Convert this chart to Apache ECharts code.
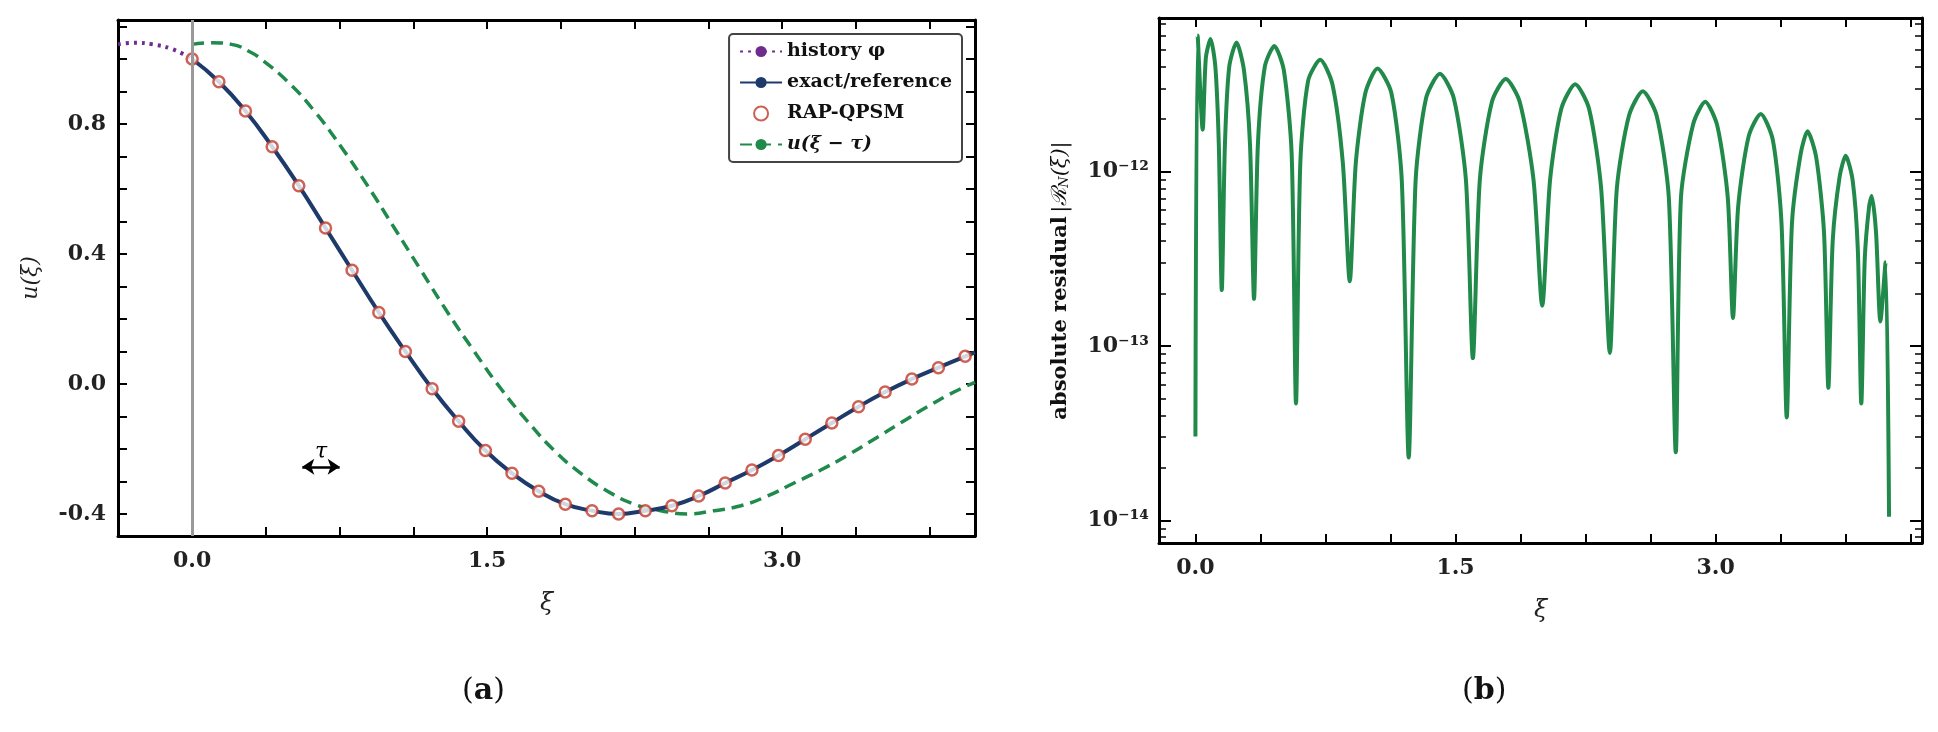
<!DOCTYPE html>
<html>
<head>
<meta charset="utf-8">
<script src="https://cdn.jsdelivr.net/npm/echarts@6/dist/echarts.min.js"></script>
<style>
  html, body { margin: 0; padding: 0; background: #fff; }
  #chart { width: 1938px; height: 732px; }
</style>
</head>
<body>
<div id="chart"></div>
<script>
// panel (a): solution
var historyXi = [-0.377, -0.3, -0.2, -0.1, 0];
var historyU = [1.045, 1.05, 1.045, 1.03, 1.0];

var nodeXi = [0, 0.136, 0.271, 0.407, 0.542, 0.678, 0.813, 0.949, 1.084, 1.220,
  1.355, 1.491, 1.626, 1.762, 1.897, 2.033, 2.168, 2.304, 2.439, 2.575,
  2.710, 2.846, 2.981, 3.117, 3.252, 3.388, 3.523, 3.659, 3.794, 3.930];
var nodeU = [1.0, 0.93, 0.84, 0.73, 0.61, 0.48, 0.35, 0.22, 0.10, -0.015,
  -0.115, -0.205, -0.275, -0.33, -0.37, -0.39, -0.40, -0.39, -0.375, -0.345,
  -0.305, -0.265, -0.22, -0.17, -0.12, -0.07, -0.025, 0.015, 0.05, 0.085];
var exactXi = nodeXi.concat([3.98]);
var exactU = nodeU.concat([0.097]);

var delayXi = [0, 0.1, 0.2, 0.3, 0.35, 0.486, 0.621, 0.757, 0.892, 1.028, 1.163, 1.299,
  1.434, 1.57, 1.705, 1.841, 1.976, 2.112, 2.247, 2.383, 2.518, 2.654, 2.789,
  2.925, 3.06, 3.196, 3.331, 3.467, 3.602, 3.738, 3.873, 3.98];
var delayU = [1.045, 1.05, 1.045, 1.02, 1.0, 0.93, 0.84, 0.73, 0.61, 0.48, 0.35, 0.22,
  0.10, -0.015, -0.115, -0.205, -0.275, -0.33, -0.37, -0.39, -0.40, -0.39, -0.375,
  -0.345, -0.305, -0.265, -0.22, -0.17, -0.12, -0.07, -0.025, 0.005];

// panel (b): residual, log10 exponents
var resXi = [0.000, 0.013, 0.042, 0.060, 0.087, 0.115, 0.135, 0.152, 0.170, 0.195,
  0.237, 0.280, 0.315, 0.338, 0.360, 0.400, 0.455, 0.510, 0.555, 0.580,
  0.605, 0.650, 0.720, 0.790, 0.850, 0.890, 0.925, 0.980, 1.050, 1.130,
  1.190, 1.230, 1.270, 1.330, 1.410, 1.490, 1.560, 1.600, 1.640, 1.710,
  1.790, 1.870, 1.950, 2.000, 2.045, 2.110, 2.190, 2.270, 2.340, 2.390,
  2.430, 2.500, 2.580, 2.660, 2.730, 2.770, 2.800, 2.870, 2.940, 3.010,
  3.070, 3.100, 3.130, 3.190, 3.260, 3.330, 3.380, 3.410, 3.440, 3.490,
  3.530, 3.580, 3.625, 3.650, 3.675, 3.715, 3.750, 3.790, 3.820, 3.840,
  3.860, 3.885, 3.900, 3.925, 3.950, 3.980, 4.000];
var resExp = [-13.52, -11.22, -11.76, -11.35, -11.24, -11.40, -11.85, -12.68, -11.85, -11.40,
  -11.26, -11.42, -11.85, -12.73, -11.85, -11.40, -11.28, -11.42, -11.90, -13.33,
  -11.95, -11.48, -11.36, -11.50, -11.95, -12.63, -11.95, -11.55, -11.41, -11.55,
  -12.05, -13.64, -12.05, -11.58, -11.44, -11.58, -12.05, -13.07, -12.05, -11.60,
  -11.47, -11.60, -12.05, -12.77, -12.05, -11.64, -11.50, -11.64, -12.10, -13.04,
  -12.10, -11.68, -11.54, -11.68, -12.15, -13.61, -12.15, -11.73, -11.60, -11.74,
  -12.15, -12.84, -12.20, -11.80, -11.67, -11.82, -12.30, -13.41, -12.30, -11.90,
  -11.77, -11.92, -12.35, -13.24, -12.40, -12.03, -11.91, -12.05, -12.45, -13.33,
  -12.50, -12.20, -12.14, -12.35, -12.86, -12.52, -13.98];

var xiLabels = [0, 1.5, 3.0];
var xiTicksA = [0, 0.375, 0.75, 1.125, 1.5, 1.875, 2.25, 2.625, 3.0, 3.375, 3.75];
var xiTicksB = [0, 0.375, 0.75, 1.125, 1.5, 1.875, 2.25, 2.625, 3.0, 3.375, 3.75, 4.125];
var uLabels = [-0.4, 0.0, 0.4, 0.8];
var uTicks = [-0.4, -0.3, -0.2, -0.1, 0, 0.1, 0.2, 0.3, 0.4, 0.5, 0.6, 0.7, 0.8, 0.9, 1.0, 1.1];
var resMinExp = -14.13, resMaxExp = -11.12;

var serif = 'DejaVu Serif';
function zip(a, b) { return a.map(function (v, i) { return [v, b[i]]; }); }
var supers = { '-': '⁻', '0': '⁰', '1': '¹', '2': '²', '3': '³', '4': '⁴' };
function pow10(v) {
    var l = Math.log10(v), e = Math.round(l);
    if (Math.abs(l - e) > 0.01) return '';
    return '10' + String(e).split('').map(function (c) { return supers[c]; }).join('');
}

var axisLine = { show: true, onZero: false, lineStyle: { color: '#000', width: 3 } };
var tickStyle = { width: 2, color: '#000' };
function xAxisPair(grid, min, max, ticks, name) {
    return [{
        type: 'value', gridIndex: grid, min: min, max: max,
        axisLine: axisLine, splitLine: { show: false },
        axisTick: { inside: true, length: 9, lineStyle: tickStyle, customValues: ticks },
        axisLabel: { customValues: xiLabels, fontFamily: serif, fontWeight: 'bold', fontSize: 22, color: '#222', margin: 14,
            formatter: function (v) { return v.toFixed(1); } },
        name: name, nameLocation: 'middle', nameGap: 56,
        nameTextStyle: { fontFamily: serif, fontStyle: 'italic', fontSize: 24, color: '#222' }
    }, {
        type: 'value', gridIndex: grid, position: 'top', min: min, max: max,
        axisLine: axisLine, splitLine: { show: false },
        axisTick: { inside: true, length: 9, lineStyle: tickStyle, customValues: ticks },
        axisLabel: { show: false }
    }];
}
function logAxis(right) {
    return {
        type: 'log', logBase: 10, gridIndex: 1, position: right ? 'right' : 'left',
        min: Math.pow(10, resMinExp), max: Math.pow(10, resMaxExp),
        axisLine: axisLine, splitLine: { show: false },
        axisTick: { inside: true, length: 12, lineStyle: tickStyle },
        minorTick: { show: true, splitNumber: 9, length: 7, lineStyle: { width: 1.5, color: '#000' } },
        axisLabel: right ? { show: false } : { fontFamily: serif, fontWeight: 'bold', fontSize: 22, color: '#222', margin: 10,
            formatter: pow10, showMinLabel: false, showMaxLabel: false }
    };
}

var yRes = logAxis(false);
yRes.name = '{b|absolute residual} {i||ℛ}{s|N}{i|(ξ)|}';
yRes.nameLocation = 'middle';
yRes.nameGap = 88;
yRes.nameRotate = 90;
yRes.nameTextStyle = { rich: {
    b: { fontFamily: serif, fontWeight: 'bold', fontSize: 21, color: '#111' },
    i: { fontFamily: serif, fontStyle: 'italic', fontSize: 21, color: '#111' },
    s: { fontFamily: serif, fontStyle: 'italic', fontSize: 13, color: '#111', verticalAlign: 'bottom', padding: [8, 0, 0, 0] }
} };

var chart = echarts.init(document.getElementById('chart'));
var option = {
    animation: false,
    backgroundColor: '#fff',
    grid: [
        { left: 118, right: 963, top: 20, bottom: 196 },
        { left: 1159, right: 16, top: 18, bottom: 189 }
    ],
    legend: {
        orient: 'vertical', right: 976, top: 34,
        backgroundColor: '#fff', borderColor: '#444', borderWidth: 2, borderRadius: 4,
        padding: [8, 10, 8, 10], itemGap: 12, itemWidth: 42, itemHeight: 14,
        textStyle: { fontFamily: serif, fontWeight: 'bold', fontSize: 19, color: '#111',
            rich: { i: { fontFamily: serif, fontStyle: 'italic', fontSize: 19, color: '#111' } } },
        formatter: function (n) { return n === 'u(ξ − τ)' ? '{i|u(ξ − τ)}' : n; },
        data: ['history φ', 'exact/reference', 'RAP-QPSM', 'u(ξ − τ)']
    },
    xAxis: xAxisPair(0, -0.377, 3.98, xiTicksA, 'ξ').concat(xAxisPair(1, -0.21, 4.19, xiTicksB, 'ξ')),
    yAxis: [{
        type: 'value', gridIndex: 0, min: -0.468, max: 1.12,
        axisLine: axisLine, splitLine: { show: false },
        axisTick: { inside: true, length: 9, lineStyle: tickStyle, customValues: uTicks },
        axisLabel: { customValues: uLabels, fontFamily: serif, fontWeight: 'bold', fontSize: 22, color: '#222', margin: 12,
            formatter: function (v) { return v.toFixed(1); } },
        name: 'u(ξ)', nameLocation: 'middle', nameGap: 76, nameRotate: 90,
        nameTextStyle: { fontFamily: serif, fontStyle: 'italic', fontSize: 22, color: '#222' }
    }, {
        type: 'value', gridIndex: 0, position: 'right', min: -0.468, max: 1.12,
        axisLine: axisLine, splitLine: { show: false },
        axisTick: { inside: true, length: 9, lineStyle: tickStyle, customValues: uTicks },
        axisLabel: { show: false }
    }, yRes, logAxis(true)],
    series: [{
        name: 'history φ', type: 'line', xAxisIndex: 0, yAxisIndex: 0, smooth: true,
        symbol: 'none', data: zip(historyXi, historyU),
        lineStyle: { color: '#6f2c8f', width: 4, type: [3, 5] }, itemStyle: { color: '#6f2c8f' }
    }, {
        name: 'exact/reference', type: 'line', xAxisIndex: 0, yAxisIndex: 0, smooth: true,
        symbol: 'none', data: zip(exactXi, exactU), z: 3,
        lineStyle: { color: '#1d3a6b', width: 4 }, itemStyle: { color: '#1d3a6b' },
        markLine: {
            silent: true, symbol: 'none', label: { show: false },
            lineStyle: { color: '#999', width: 3, type: 'solid' },
            data: [{ xAxis: 0 }]
        }
    }, {
        name: 'RAP-QPSM', type: 'scatter', xAxisIndex: 0, yAxisIndex: 0, z: 4,
        symbol: 'circle', symbolSize: 11, data: zip(nodeXi, nodeU),
        itemStyle: { color: '#fff', borderColor: '#c0392b', borderWidth: 2.5 }
    }, {
        name: 'u(ξ − τ)', type: 'line', xAxisIndex: 0, yAxisIndex: 0, smooth: true,
        symbol: 'none', data: zip(delayXi, delayU), z: 2,
        lineStyle: { color: '#1f8a4c', width: 3.5, type: [12, 7] }, itemStyle: { color: '#1f8a4c' }
    }, {
        name: 'tau', type: 'line', xAxisIndex: 0, yAxisIndex: 0, data: [],
        markLine: {
            silent: true, symbol: ['arrow', 'arrow'], symbolSize: 12,
            lineStyle: { color: '#000', width: 2.5, type: 'solid' },
            label: { show: true, position: 'middle', formatter: 'τ', distance: 4,
                fontFamily: serif, fontStyle: 'italic', fontSize: 22, color: '#000' },
            data: [[{ coord: [0.56, -0.255] }, { coord: [0.75, -0.255] }]]
        }
    }, {
        name: 'residual', type: 'line', xAxisIndex: 2, yAxisIndex: 2, smooth: 0.25,
        symbol: 'none',
        data: resXi.map(function (x, i) { return [x, Math.pow(10, resExp[i])]; }),
        lineStyle: { color: '#218a4b', width: 4 }
    }],
    graphic: [
        { type: 'text', left: 462, top: 676, style: { text: '({b|a})', font: '30px "DejaVu Serif"', fill: '#111',
            rich: { b: { fontFamily: serif, fontWeight: 'bold', fontSize: 30, fill: '#111' } } } },
        { type: 'text', left: 1462, top: 676, style: { text: '({b|b})', font: '30px "DejaVu Serif"', fill: '#111',
            rich: { b: { fontFamily: serif, fontWeight: 'bold', fontSize: 30, fill: '#111' } } } }
    ]
};
chart.setOption(option);
</script>
</body>
</html>
